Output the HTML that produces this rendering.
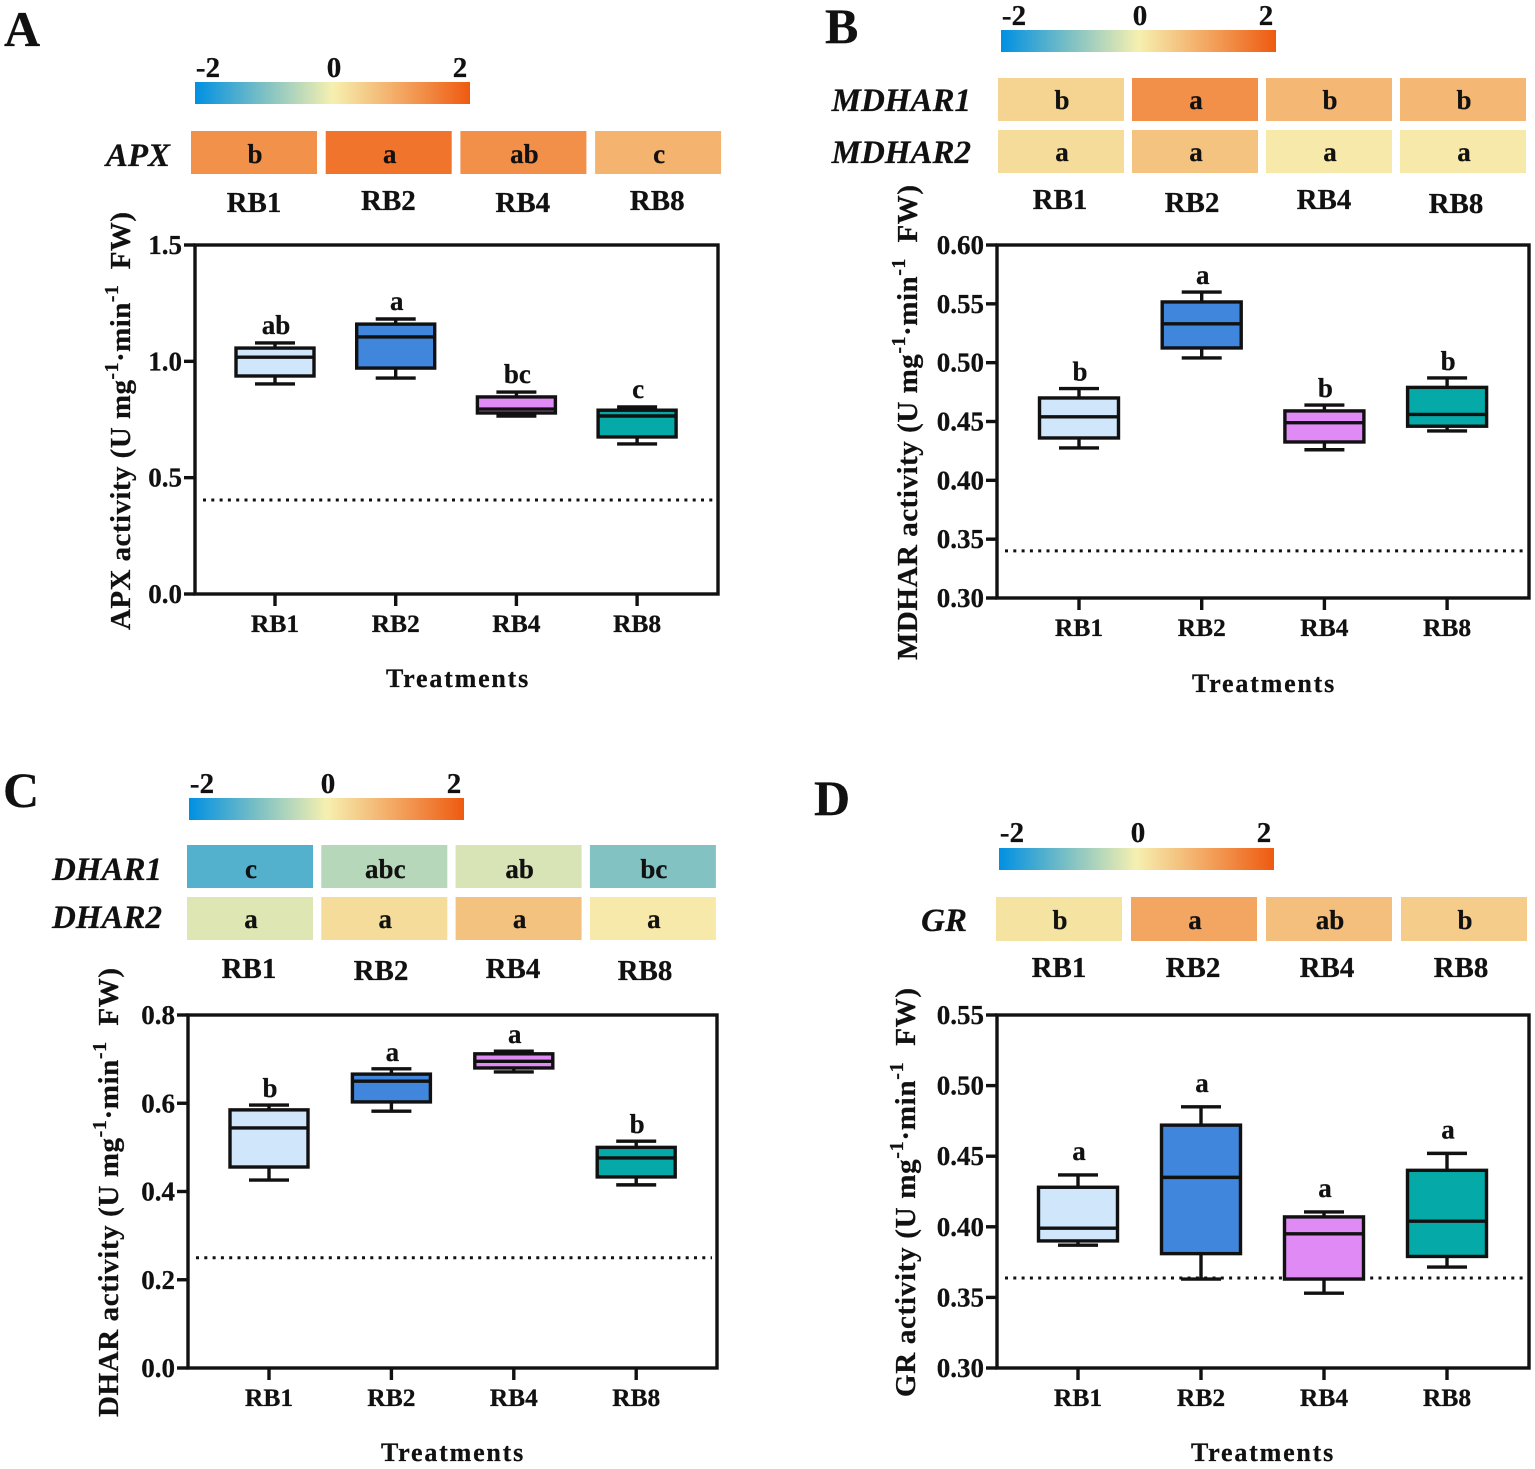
<!DOCTYPE html>
<html>
<head>
<meta charset="utf-8">
<title>Antioxidant enzyme activity panels</title>
<style>
html,body{margin:0;padding:0;background:#fff;}
svg{display:block;}
text{font-family:"Liberation Serif",serif;font-weight:bold;fill:#111;stroke:#111;stroke-width:0.25px;}
</style>
</head>
<body>
<svg id="fig" xmlns="http://www.w3.org/2000/svg" width="1535" height="1469" viewBox="0 0 1535 1469">
<defs>
<linearGradient id="cbar" x1="0" x2="1" y1="0" y2="0">
<stop offset="0" stop-color="#0090e2"/>
<stop offset="0.25" stop-color="#7cc0c4"/>
<stop offset="0.5" stop-color="#f6f0b0"/>
<stop offset="0.75" stop-color="#f3a661"/>
<stop offset="1" stop-color="#ee5a10"/>
</linearGradient>
</defs>
</svg>
<script>
// ---------- shared data ----------
const categories = ["RB1", "RB2", "RB4", "RB8"];
const boxFills = ["#cfe6fb", "#3f86dc", "#e08af5", "#05aaa8"];
const colorbarLabels = ["-2", "0", "2"];

// ---------- panel A ----------
const aTicks = ["0.0", "0.5", "1.0", "1.5"];
const aLow = [0.903, 0.928, 0.765, 0.645];
const aQ1 = [0.937, 0.971, 0.778, 0.675];
const aMedian = [1.018, 1.105, 0.795, 0.765];
const aQ3 = [1.057, 1.16, 0.847, 0.79];
const aHigh = [1.079, 1.182, 0.868, 0.804];
const aLetters = ["ab", "a", "bc", "c"];
const aReference = 0.404;
const aGenes = ["APX"];
const aHeat = [[1.28, 1.66, 1.3, 0.81]];
const aHeatLetters = [["b", "a", "ab", "c"]];

// ---------- panel B ----------
const bTicks = ["0.30", "0.35", "0.40", "0.45", "0.50", "0.55", "0.60"];
const bLow = [0.4275, 0.504, 0.426, 0.442];
const bQ1 = [0.436, 0.5125, 0.4326, 0.446];
const bMedian = [0.454, 0.533, 0.449, 0.456];
const bQ3 = [0.47, 0.5516, 0.459, 0.479];
const bHigh = [0.478, 0.56, 0.464, 0.487];
const bLetters = ["b", "a", "b", "b"];
const bReference = 0.34;
const bGenes = ["MDHAR1", "MDHAR2"];
const bHeat = [[0.39, 1.3, 0.76, 0.76], [0.27, 0.61, 0.09, 0.09]];
const bHeatLetters = [["b", "a", "b", "b"], ["a", "a", "a", "a"]];

// ---------- panel C ----------
const cTicks = ["0.0", "0.2", "0.4", "0.6", "0.8"];
const cLow = [0.426, 0.582, 0.671, 0.415];
const cQ1 = [0.4555, 0.603, 0.68, 0.433];
const cMedian = [0.544, 0.65, 0.695, 0.476];
const cQ3 = [0.585, 0.666, 0.712, 0.5];
const cHigh = [0.596, 0.678, 0.718, 0.514];
const cLetters = ["b", "a", "a", "b"];
const cReference = 0.25;
const cGenes = ["DHAR1", "DHAR2"];
const cHeat = [[-1.32, -0.52, -0.25, -0.95], [-0.2, 0.27, 0.62, 0.09]];
const cHeatLetters = [["c", "abc", "ab", "bc"], ["a", "a", "a", "a"]];

// ---------- panel D ----------
const dTicks = ["0.30", "0.35", "0.40", "0.45", "0.50", "0.55"];
const dLow = [0.387, 0.363, 0.353, 0.3715];
const dQ1 = [0.39, 0.381, 0.363, 0.379];
const dMedian = [0.399, 0.435, 0.395, 0.404];
const dQ3 = [0.428, 0.472, 0.407, 0.44];
const dHigh = [0.4367, 0.485, 0.4105, 0.452];
const dLetters = ["a", "a", "a", "a"];
const dReference = 0.3637;
const dGenes = ["GR"];
const dHeat = [[0.18, 1.0, 0.66, 0.49]];
const dHeatLetters = [["b", "a", "ab", "b"]];

// ---------- layout (not data) ----------
const colorStops = [[-2, [0, 144, 226]], [-1, [124, 192, 196]], [0, [246, 240, 176]], [1, [243, 166, 97]], [2, [238, 90, 16]]];
const layouts = [
  {id:"a", tag:"A", tagX:4, tagY:46, left:195, right:718, top:245, bottom:594, x0:275, xStep:120.7, boxW:78, letterGap:9,
   dom:[0,1.5], ticks:aTicks, low:aLow, q1:aQ1, med:aMedian, q3:aQ3, high:aHigh, letters:aLetters, ref:aReference,
   enzyme:"APX", titleX:130, titleBottom:630, titleLen:418, treatX:458, treatY:687,
   cbX:195, cbY:82, cbLabelY:77, genes:aGenes, heat:aHeat, heatLetters:aHeatLetters,
   hx:191, hStep:134.7, hW:126, hY:[131], hH:43, geneRight:170, geneDy:[2], letterDy:[1], hdrX0:254, hdrStep:134.4, hdrY:[212,210,212,210]},
  {id:"b", tag:"B", tagX:825, tagY:43, left:997, right:1529, top:245, bottom:598, x0:1079, xStep:122.7, boxW:79, letterGap:8,
   dom:[0.3,0.6], ticks:bTicks, low:bLow, q1:bQ1, med:bMedian, q3:bQ3, high:bHigh, letters:bLetters, ref:bReference,
   enzyme:"MDHAR", titleX:917, titleBottom:660, titleLen:475, treatX:1264, treatY:692,
   cbX:1001, cbY:30, cbLabelY:25, genes:bGenes, heat:bHeat, heatLetters:bHeatLetters,
   hx:998, hStep:134, hW:126, hY:[78,130], hH:43, geneRight:971, geneDy:[0,0], letterDy:[0,0], hdrX0:1060, hdrStep:132, hdrY:[209,212,209,213]},
  {id:"c", tag:"C", tagX:3, tagY:807, left:188, right:717, top:1015, bottom:1368, x0:269, xStep:122.4, boxW:78, letterGap:8,
   dom:[0,0.8], ticks:cTicks, low:cLow, q1:cQ1, med:cMedian, q3:cQ3, high:cHigh, letters:cLetters, ref:cReference,
   enzyme:"DHAR", titleX:118, titleBottom:1417, titleLen:449, treatX:453, treatY:1461,
   cbX:189, cbY:798, cbLabelY:793, genes:cGenes, heat:cHeat, heatLetters:cHeatLetters,
   hx:187, hStep:134.3, hW:126, hY:[845,897], hH:43, geneRight:162, geneDy:[2,-2], letterDy:[2,0], hdrX0:249, hdrStep:132, hdrY:[978,980,978,980]},
  {id:"d", tag:"D", tagX:814, tagY:815, left:997, right:1529, top:1015, bottom:1368, x0:1078, xStep:123, boxW:79, letterGap:15,
   dom:[0.3,0.55], ticks:dTicks, low:dLow, q1:dQ1, med:dMedian, q3:dQ3, high:dHigh, letters:dLetters, ref:dReference,
   enzyme:"GR", titleX:915, titleBottom:1397, titleLen:409, treatX:1263, treatY:1461,
   cbX:999, cbY:848, cbLabelY:842, genes:dGenes, heat:dHeat, heatLetters:dHeatLetters,
   hx:996, hStep:135, hW:126, hY:[897], hH:44, geneRight:967, geneDy:[1], letterDy:[1], hdrX0:1059, hdrStep:134, hdrY:[977,977,977,977]}
];

const SVGNS = "http://www.w3.org/2000/svg";
const fig = document.getElementById("fig");

function make(tag, attrs, parent, txt) {
  const el = document.createElementNS(SVGNS, tag);
  for (const k in attrs) el.setAttribute(k, attrs[k]);
  if (txt !== undefined) el.textContent = txt;
  parent.appendChild(el);
  return el;
}
function heatColor(z) {
  for (let i = 0; i < colorStops.length - 1; i++) {
    const a = colorStops[i], b = colorStops[i + 1];
    if (z <= b[0] || i === colorStops.length - 2) {
      const t = (z - a[0]) / (b[0] - a[0]);
      const c = a[1].map((v, j) => Math.round(v + (b[1][j] - v) * t));
      return "rgb(" + c.join(",") + ")";
    }
  }
}

layouts.forEach(function (p) {
  const g = make("g", {}, fig);
  
  

  const yScale = v => p.bottom - (v - p.dom[0]) / (p.dom[1] - p.dom[0]) * (p.bottom - p.top);
  const xScale = i => p.x0 + i * p.xStep;

  // panel letter
  const tag = make("text", {x:p.tagX, y:p.tagY, "font-size":50}, g, p.tag);
  
  

  // colour bar
  const cb = make("rect", {x:p.cbX, y:p.cbY, width:275, height:22, fill:"url(#cbar)"}, g);
  
  
  colorbarLabels.forEach(function (lab, i) {
    const t = make("text", {x:p.cbX + 13 + i * 126, y:p.cbLabelY, "font-size":29, "text-anchor":"middle"}, g, lab);
    
    
  });

  // heatmap rows
  p.genes.forEach(function (gene, r) {
    const gt = make("text", {x:p.geneRight, y:p.hY[r] + 33 + p.geneDy[r], "font-size":33, "font-style":"italic", "text-anchor":"end"}, g, gene);
    
    
    categories.forEach(function (cat, i) {
      const cx = p.hx + i * p.hStep;
      const cell = make("rect", {x:cx, y:p.hY[r], width:p.hW, height:p.hH, fill:heatColor(p.heat[r][i])}, g);
      
      
      const lt = make("text", {x:cx + p.hW / 2 + 1, y:p.hY[r] + 31 + p.letterDy[r], "font-size":27, "text-anchor":"middle"}, g, p.heatLetters[r][i]);
      
      
    });
  });

  // header category labels
  categories.forEach(function (cat, i) {
    const t = make("text", {x:p.hdrX0 + i * p.hdrStep, y:p.hdrY[i], "font-size":29, "text-anchor":"middle"}, g, cat);
    
    
  });

  // reference dotted line
  const ref = make("line", {x1:p.left + 8, x2:p.right - 5, y1:yScale(p.ref), y2:yScale(p.ref), stroke:"#111", "stroke-width":3, "stroke-dasharray":"3 5.3"}, g);
  
  

  // boxes
  categories.forEach(function (cat, i) {
    const cx = xScale(i), w = p.boxW;
    const bg = make("g", {stroke:"#111", "stroke-width":3.4}, g);
    
    
    make("line", {x1:cx, x2:cx, y1:yScale(p.high[i]), y2:yScale(p.low[i])}, bg);
    make("line", {x1:cx - 20, x2:cx + 20, y1:yScale(p.high[i]), y2:yScale(p.high[i])}, bg);
    make("line", {x1:cx - 20, x2:cx + 20, y1:yScale(p.low[i]), y2:yScale(p.low[i])}, bg);
    make("rect", {x:cx - w / 2, y:yScale(p.q3[i]), width:w, height:yScale(p.q1[i]) - yScale(p.q3[i]), fill:boxFills[i]}, bg);
    make("line", {x1:cx - w / 2, x2:cx + w / 2, y1:yScale(p.med[i]), y2:yScale(p.med[i])}, bg);
    const st = make("text", {x:cx + 1, y:yScale(p.high[i]) - p.letterGap, "font-size":27, "text-anchor":"middle"}, g, p.letters[i]);
    
    
  });

  // frame
  const frame = make("rect", {x:p.left, y:p.top, width:p.right - p.left, height:p.bottom - p.top, fill:"none", stroke:"#111", "stroke-width":3.4}, g);
  
  

  // y axis
  p.ticks.forEach(function (lab) {
    const y = yScale(parseFloat(lab));
    const tk = make("line", {x1:p.left - 11, x2:p.left, y1:y, y2:y, stroke:"#111", "stroke-width":3.4}, g);
    
    
    const t = make("text", {x:p.left - 13, y:y + 9, "font-size":27, "text-anchor":"end"}, g, lab);
    
    
  });

  // x axis
  categories.forEach(function (cat, i) {
    const x = xScale(i);
    const tk = make("line", {x1:x, x2:x, y1:p.bottom, y2:p.bottom + 12, stroke:"#111", "stroke-width":3.4}, g);
    
    
    const t = make("text", {x:x, y:p.bottom + 38, "font-size":25.5, "text-anchor":"middle"}, g, cat);
    
    
  });

  // x title
  const xt = make("text", {x:p.treatX, y:p.treatY, "font-size":26, "text-anchor":"middle", "letter-spacing":"1.8"}, g, "Treatments");
  
  

  // y title
  const yt = make("text", {transform:"translate(" + p.titleX + "," + p.titleBottom + ") rotate(-90)", x:0, y:0, "font-size":29, textLength:p.titleLen, lengthAdjust:"spacing"}, g);
  
  
  make("tspan", {}, yt, p.enzyme + " activity (U mg");
  make("tspan", {dy:-12, "font-size":20}, yt, "-1");
  make("tspan", {dy:12}, yt, "\u00b7min");
  make("tspan", {dy:-12, "font-size":20}, yt, "-1");
  make("tspan", {dy:12}, yt, "\u00a0\u00a0FW)");
});
</script>
</body>
</html>
